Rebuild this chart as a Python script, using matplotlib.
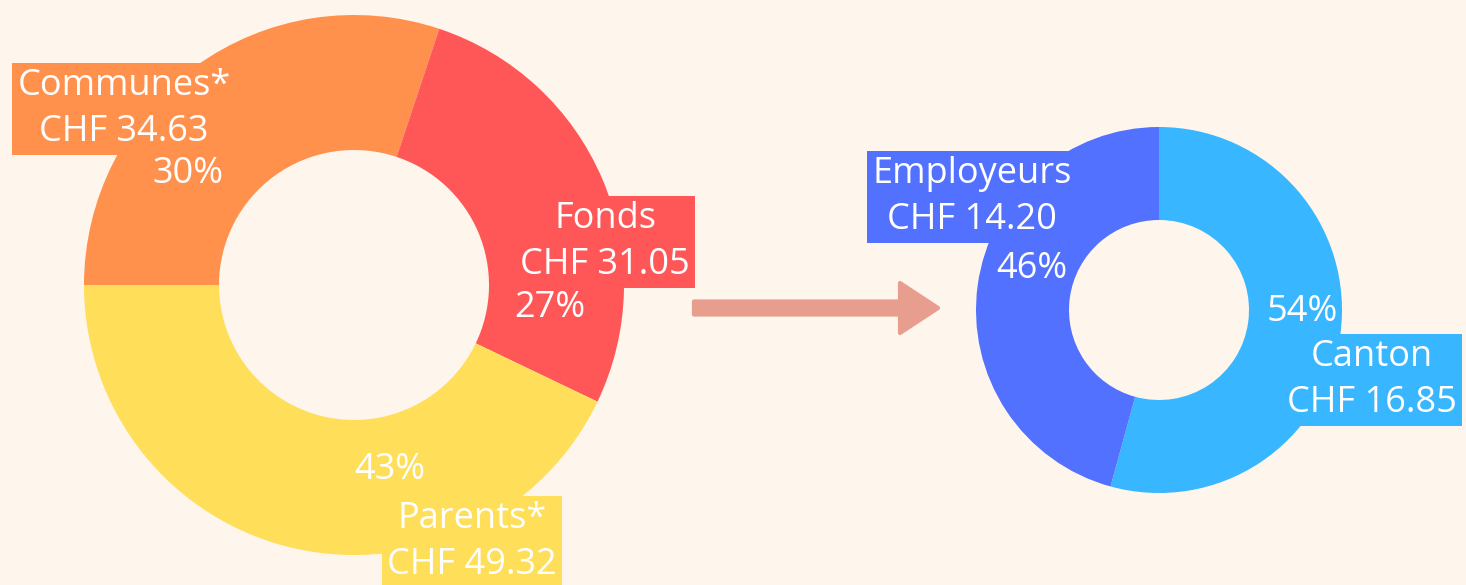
import matplotlib.pyplot as plt
from matplotlib.patches import FancyArrow

W, H = 1466, 585

# left donut: sources of funding
left_names = ["Communes*", "Fonds", "Parents*"]
left_values = [34.63, 31.05, 49.32]
left_colors = ["#FF914D", "#FF5757", "#FFDE59"]

# right donut: split of the "Fonds" share
right_names = ["Canton", "Employeurs"]
right_values = [16.85, 14.20]
right_colors = ["#38B6FF", "#5271FF"]

BG = "#FEF5EC"
FONT = "Open Sans"
FS = 26

fig = plt.figure(figsize=(W / 100, H / 100), dpi=100, facecolor=BG)
ax = fig.add_axes([0, 0, 1, 1])
ax.set_facecolor(BG)


def py(y):
    # picture y (top-down) -> axes y
    return H - y


# ---- donuts ----
ax.pie(left_values, colors=left_colors, startangle=180, counterclock=False,
       center=(354, py(285)), radius=270,
       wedgeprops=dict(width=135, linewidth=0), frame=True)
ax.pie(right_values, colors=right_colors, startangle=90, counterclock=False,
       center=(1159, py(310)), radius=183,
       wedgeprops=dict(width=93, linewidth=0), frame=True)
ax.set_xlim(0, W)
ax.set_ylim(0, H)
ax.axis("off")


def label(x, y, name, value, color):
    ax.text(x, py(y), f"{name}\nCHF {value:.2f}", ha="center", va="center",
            multialignment="center", color="white", fontsize=FS, family=FONT,
            linespacing=1.36,
            bbox=dict(boxstyle="square,pad=0.15", facecolor=color, edgecolor="none"))


def pct(x, y, value, total):
    ax.text(x, py(y), f"{value / total * 100:.0f}%", ha="center", va="center",
            color="white", fontsize=FS, family=FONT)


lt = sum(left_values)
rt = sum(right_values)

label(124, 109, left_names[0], left_values[0], left_colors[0])
label(605, 242, left_names[1], left_values[1], left_colors[1])
label(472, 542, left_names[2], left_values[2], left_colors[2])
pct(188, 174, left_values[0], lt)
pct(550, 308, left_values[1], lt)
pct(390, 470, left_values[2], lt)

label(1372, 380, right_names[0], right_values[0], right_colors[0])
label(972, 197, right_names[1], right_values[1], right_colors[1])
pct(1302, 312, right_values[0], rt)
pct(1032, 269, right_values[1], rt)

# ---- arrow ----
arr = FancyArrow(694, py(308), 244, 0, width=13, head_width=50, head_length=38,
                 length_includes_head=True, facecolor="#E79E8E",
                 edgecolor="#E79E8E", linewidth=3, joinstyle="round")
ax.add_patch(arr)

fig.savefig("out.png", dpi=100, facecolor=BG)
